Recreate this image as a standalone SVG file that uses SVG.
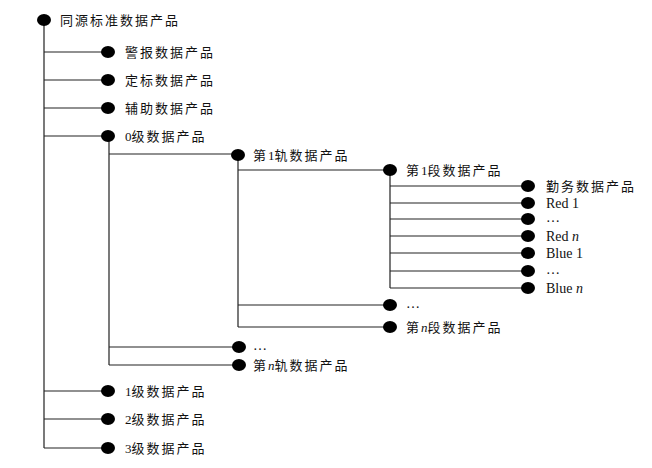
<svg xmlns="http://www.w3.org/2000/svg" width="652" height="468" viewBox="0 0 652 468">
<style>
.ln{stroke:#222;stroke-width:1.2;fill:none}
.dot{fill:#000}
text{font-family:"Liberation Serif","Noto Sans CJK SC",serif;font-size:13px;fill:#111;letter-spacing:2px}
text.en{font-size:14px;letter-spacing:0}
.it{font-style:italic}
.dig{letter-spacing:0}
</style>
<rect width="652" height="468" fill="#fff"/>
<g id="connectors">
<path class="ln" d="M44,20V448 M44,52H108 M44,80H108 M44,108H108 M44,136H108 M44,391H108 M44,419H108 M44,448H108"/>
<path class="ln" d="M109,136V365 M109,154H238 M109,347H239 M109,365H239"/>
<path class="ln" d="M238,155V327 M238,170H390 M238,305H390 M238,327H390"/>
<path class="ln" d="M390,170V288 M390,186H528 M390,203H528 M390,219H528 M390,236H528 M390,253H528 M390,271H528 M390,288H528"/>
</g>
<g id="root"><ellipse class="dot" cx="44" cy="20" rx="7" ry="6"/><text x="60" y="25">同源标准数据产品</text></g>
<g id="n-jingbao"><ellipse class="dot" cx="108" cy="52" rx="7" ry="6"/><text x="125" y="57">警报数据产品</text></g>
<g id="n-dingbiao"><ellipse class="dot" cx="108" cy="80" rx="7" ry="6"/><text x="125" y="85">定标数据产品</text></g>
<g id="n-fuzhu"><ellipse class="dot" cx="108" cy="108" rx="7" ry="6"/><text x="125" y="113">辅助数据产品</text></g>
<g id="n-l0"><ellipse class="dot" cx="108" cy="136" rx="7" ry="6"/><text x="125" y="141"><tspan class="dig">0</tspan>级数据产品</text></g>
<g id="n-gui1"><ellipse class="dot" cx="238" cy="155" rx="7" ry="6"/><text x="253" y="160">第<tspan class="dig">1</tspan>轨数据产品</text></g>
<g id="n-duan1"><ellipse class="dot" cx="390" cy="170" rx="7" ry="6"/><text x="406" y="175">第<tspan class="dig">1</tspan>段数据产品</text></g>
<g id="n-qinwu"><ellipse class="dot" cx="528" cy="186" rx="7" ry="6"/><text x="546" y="191">勤务数据产品</text></g>
<g id="n-red1"><ellipse class="dot" cx="528" cy="203" rx="7" ry="6"/><text class="en" x="546" y="208">Red 1</text></g>
<g id="n-reddots"><ellipse class="dot" cx="528" cy="219" rx="7" ry="6"/><text class="en" x="546" y="222">…</text></g>
<g id="n-redn"><ellipse class="dot" cx="528" cy="236" rx="7" ry="6"/><text class="en" x="546" y="241">Red <tspan class="it">n</tspan></text></g>
<g id="n-blue1"><ellipse class="dot" cx="528" cy="253" rx="7" ry="6"/><text class="en" x="546" y="258">Blue 1</text></g>
<g id="n-bluedots"><ellipse class="dot" cx="528" cy="271" rx="7" ry="6"/><text class="en" x="546" y="274">…</text></g>
<g id="n-bluen"><ellipse class="dot" cx="528" cy="288" rx="7" ry="6"/><text class="en" x="546" y="293">Blue <tspan class="it">n</tspan></text></g>
<g id="n-duandots"><ellipse class="dot" cx="390" cy="305" rx="7" ry="6"/><text class="en" x="406" y="308">…</text></g>
<g id="n-duann"><ellipse class="dot" cx="390" cy="327" rx="7" ry="6"/><text x="406" y="332">第<tspan class="it dig">n</tspan>段数据产品</text></g>
<g id="n-guidots"><ellipse class="dot" cx="239" cy="347" rx="7" ry="6"/><text class="en" x="253" y="350">…</text></g>
<g id="n-guin"><ellipse class="dot" cx="239" cy="365" rx="7" ry="6"/><text x="253" y="370">第<tspan class="it dig">n</tspan>轨数据产品</text></g>
<g id="n-l1"><ellipse class="dot" cx="108" cy="391" rx="7" ry="6"/><text x="125" y="396"><tspan class="dig">1</tspan>级数据产品</text></g>
<g id="n-l2"><ellipse class="dot" cx="108" cy="419" rx="7" ry="6"/><text x="125" y="424"><tspan class="dig">2</tspan>级数据产品</text></g>
<g id="n-l3"><ellipse class="dot" cx="108" cy="448" rx="7" ry="6"/><text x="125" y="453"><tspan class="dig">3</tspan>级数据产品</text></g>
</svg>
